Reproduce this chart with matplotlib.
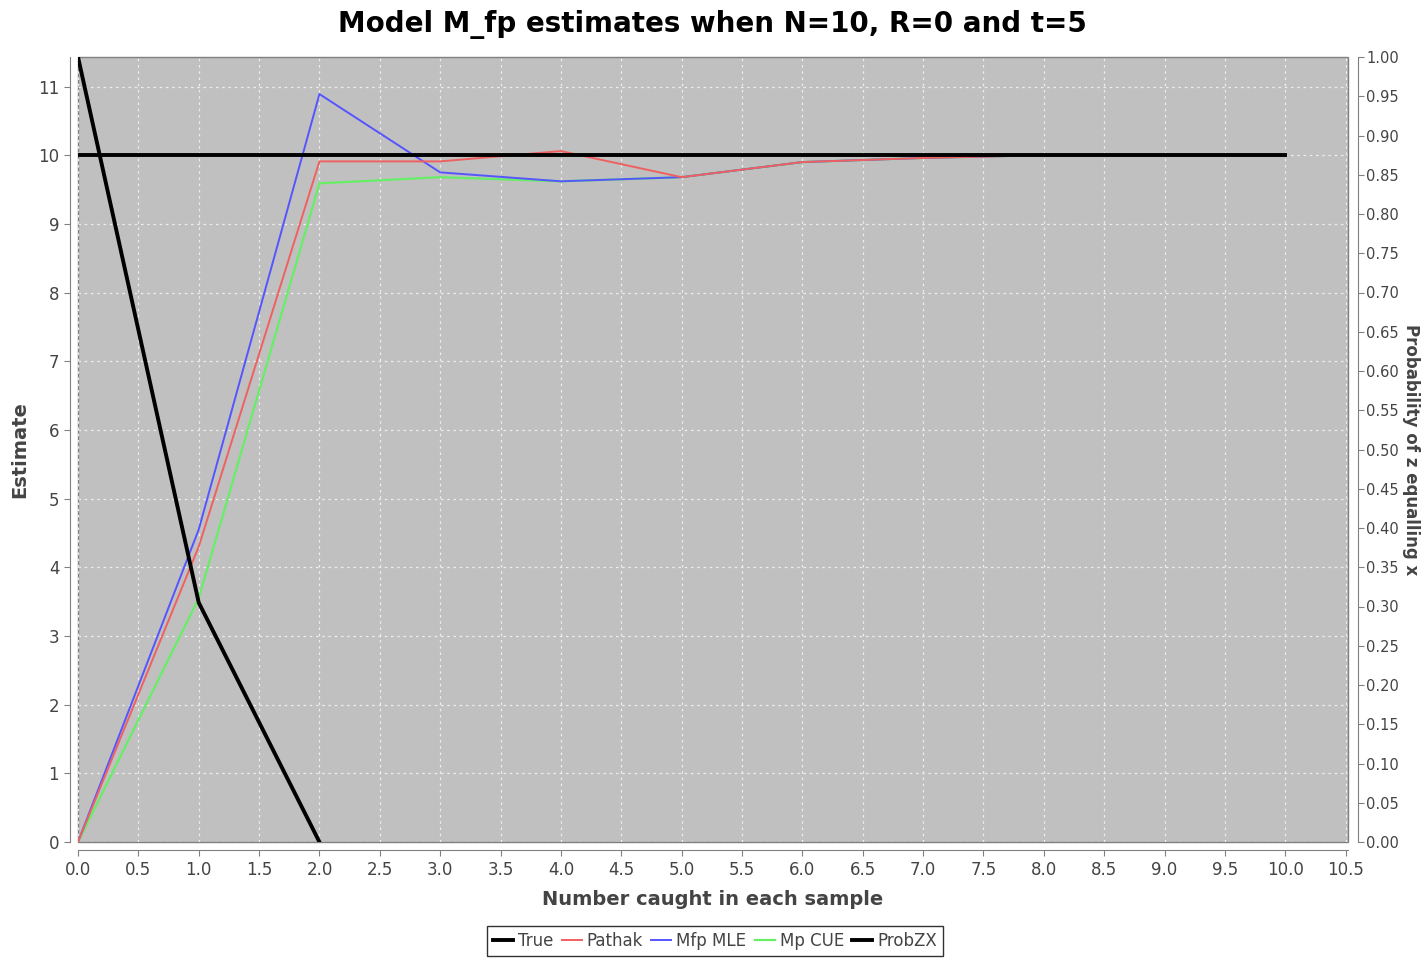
import matplotlib
matplotlib.use("Agg")
import matplotlib.pyplot as plt
from matplotlib.ticker import MultipleLocator, FormatStrFormatter
from matplotlib.lines import Line2D

# data
x = [0, 1, 2, 3, 4, 5, 6, 7, 8, 9, 10]
true_n = [10, 10, 10, 10, 10, 10, 10, 10, 10, 10, 10]
pathak = [0, 4.3, 9.91, 9.91, 10.06, 9.68, 9.9, 9.96, 10.0, 10.0, 10.0]
mfp_mle = [0, 4.55, 10.89, 9.75, 9.62, 9.68, 9.9, 9.96, 10.0, 10.0, 10.0]
mp_cue = [0, 3.55, 9.59, 9.68, 9.62, 9.68, 9.9, 9.96, 10.0, 10.0, 10.0]
x_prob = [0, 1, 2]
prob_zx = [1.0, 0.305, 0.0]
labels = ['True', 'Pathak', 'Mfp MLE', 'Mp CUE', 'ProbZX']

grey_txt = '#444444'
c_red, c_blue, c_green = '#f06060', '#5555ff', '#66ee66'

fig = plt.figure(figsize=(14.25, 9.6), dpi=100)
ax = fig.add_axes([78/1425, 1-842/960, (1348-78)/1425, (842-57)/960])
ax.set_facecolor('#c0c0c0')
ax.patch.set_edgecolor('#808080')
ax.patch.set_linewidth(1.0)

# first series on top, like the original
ax.plot(x, mp_cue, color=c_green, lw=1.6, zorder=3)
ax.plot(x, mfp_mle, color=c_blue, lw=1.4, zorder=4)
ax.plot(x, pathak, color=c_red, lw=1.4, zorder=5)
ax.plot(x, true_n, color='black', lw=2.8, zorder=6)

ax.set_xlim(0, 10.52)
ax.set_ylim(0, 11.43)
ax.xaxis.set_major_locator(MultipleLocator(0.5))
ax.xaxis.set_major_formatter(FormatStrFormatter('%.1f'))
ax.yaxis.set_major_locator(MultipleLocator(1))
ax.grid(True, color='#eeeeee', ls=(0, (2, 3)), lw=0.9, zorder=1)
ax.set_axisbelow(True)

for s in ['top', 'right']:
    ax.spines[s].set_visible(False)
for s in ['bottom', 'left']:
    ax.spines[s].set_position(('outward', 6))
    ax.spines[s].set_color('#808080')
ax.tick_params(colors='#808080', labelcolor=grey_txt, labelsize=12, length=4)

ax.set_xlabel('Number caught in each sample', fontsize=14, fontweight='bold', color=grey_txt, labelpad=8)
ax.set_ylabel('Estimate', fontsize=14, fontweight='bold', color=grey_txt, labelpad=6)

ax2 = ax.twinx()
ax2.plot(x_prob, prob_zx, color='black', lw=2.8)
ax2.set_ylim(0, 1.0)
ax2.yaxis.set_major_locator(MultipleLocator(0.05))
ax2.yaxis.set_major_formatter(FormatStrFormatter('%.2f'))
for s in ['top', 'left', 'bottom']:
    ax2.spines[s].set_visible(False)
ax2.spines['right'].set_position(('outward', 7))
ax2.spines['right'].set_color('#808080')
ax2.tick_params(colors='#808080', labelcolor=grey_txt, labelsize=10.5, length=4, pad=2)
fig.text(1411/1425, 1-450/960, 'Probability of z equalling x', fontsize=12, fontweight='bold',
         color=grey_txt, rotation=-90, ha='center', va='center')

fig.suptitle('Model M_fp estimates when N=10, R=0 and t=5', fontsize=20, fontweight='bold', y=0.99)

handles = [Line2D([], [], color='black', lw=2.8),
           Line2D([], [], color=c_red, lw=1.4),
           Line2D([], [], color=c_blue, lw=1.4),
           Line2D([], [], color=c_green, lw=1.6),
           Line2D([], [], color='black', lw=2.8)]
leg = fig.legend(handles, labels, loc='center', bbox_to_anchor=(715/1425, 1-941/960), ncol=5,
                 fontsize=12, frameon=True, fancybox=False, edgecolor='black', handlelength=1.2,
                 handletextpad=0.3, columnspacing=0.5, borderpad=0.35, borderaxespad=0)
leg.get_frame().set_linewidth(1.0)
for t in leg.get_texts():
    t.set_color(grey_txt)

fig.savefig('out.png', dpi=100)
